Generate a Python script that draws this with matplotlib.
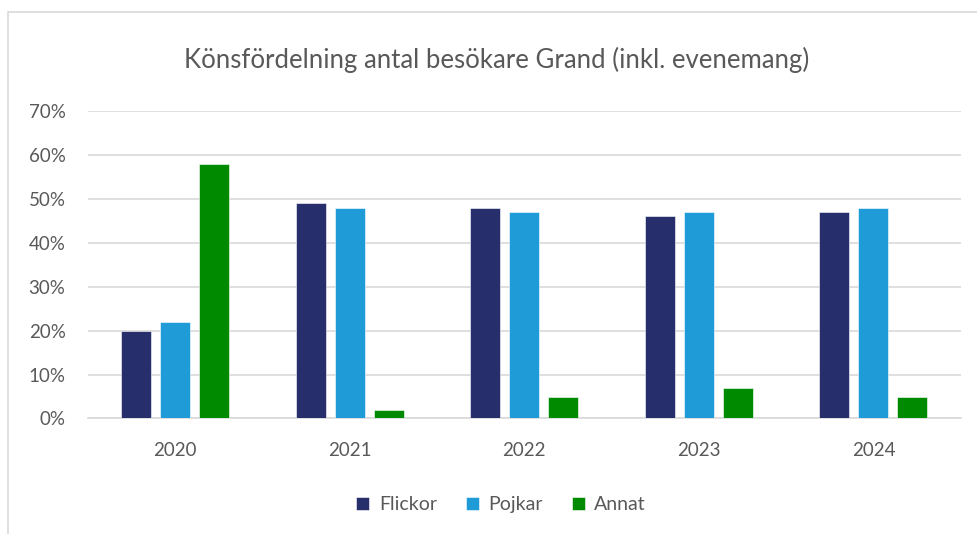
import numpy as np
import matplotlib.pyplot as plt
from matplotlib.patches import Rectangle

# Data
years = ['2020', '2021', '2022', '2023', '2024']
flickor = [20, 49, 48, 46, 47]
pojkar = [22, 48, 47, 47, 48]
annat = [58, 2, 5, 7, 5]

series = [('Flickor', flickor, '#262E6C'),
          ('Pojkar', pojkar, '#1F9CD8'),
          ('Annat', annat, '#008A00')]

text_col = '#595959'
plt.rcParams['font.family'] = ['Lato', 'DejaVu Sans']


def main():
    fig = plt.figure(figsize=(9.77, 5.34), dpi=100)
    # chart border (light gray, running off right/bottom edge)
    fig.patches.append(Rectangle((8 / 977, -0.05), 1.1, 1 - 12 / 534 + 0.05,
                                 transform=fig.transFigure, fill=False,
                                 edgecolor='#D9D9D9', linewidth=1.2))

    ax = fig.add_axes([0.0898, 0.2163, 0.8935, 0.5757])
    x = np.arange(len(years))
    width = 0.172
    pitch = 0.223
    for i, (name, vals, col) in enumerate(series):
        ax.bar(x + (i - 1) * pitch, vals, width, color=col, label=name,
               edgecolor='white', linewidth=0.4, zorder=3)

    ax.set_xlim(-0.5, len(years) - 0.5)
    ax.set_ylim(0, 70)
    ax.set_yticks(range(0, 71, 10))
    ax.set_yticklabels([f'{v}%' for v in range(0, 71, 10)])
    ax.set_xticks(x)
    ax.set_xticklabels(years)
    ax.grid(axis='y', color='#D9D9D9', linewidth=1.2, zorder=0)
    for s in ['top', 'right', 'left']:
        ax.spines[s].set_visible(False)
    ax.spines['bottom'].set_color('#D9D9D9')
    ax.spines['bottom'].set_linewidth(1.2)
    ax.tick_params(length=0, labelsize=13.5, labelcolor=text_col)
    ax.tick_params(axis='y', pad=16)
    ax.tick_params(axis='x', pad=17)

    fig.text(0.508, 0.888, 'Könsfördelning antal besökare Grand (inkl. evenemang)',
             ha='center', va='center', fontsize=18.5, color=text_col)

    fig.legend(loc='center', bbox_to_anchor=(0.513, 0.055), ncol=3, frameon=False,
               fontsize=14, labelcolor=text_col, handlelength=0.65,
               handleheight=0.65, handletextpad=0.5, columnspacing=1.5)

    fig.savefig('out.png', dpi=100)


if __name__ == '__main__':
    main()
